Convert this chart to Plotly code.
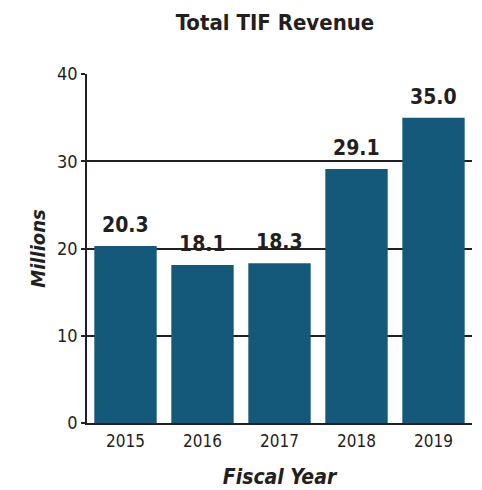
import plotly.graph_objects as go

years = ["2015", "2016", "2017", "2018", "2019"]
revenue = [20.3, 18.1, 18.3, 29.1, 35.0]
y_ticks = [0, 10, 20, 30, 40]

FONT = "Liberation Sans Narrow, DejaVu Sans Condensed, Arial Narrow, sans-serif"
INK = "#231f20"

fig = go.Figure(go.Bar(
    x=years, y=revenue,
    marker=dict(color="#14587a", line=dict(width=0)),
))

# category axis: annotation x uses the category's serial index
for i, v in enumerate(revenue):
    fig.add_annotation(
        x=i, y=v, text=f"<b>{v:.1f}</b>", showarrow=False,
        yanchor="bottom", yshift=7,
        font=dict(family=FONT, size=21, color=INK),
    )

fig.update_layout(
    width=482, height=490,
    margin=dict(l=79, r=18, t=66, b=75),
    paper_bgcolor="white", plot_bgcolor="white",
    bargap=0.19,
    showlegend=False,
    title=dict(text="<b>Total TIF Revenue</b>", x=0.554, xanchor="center", y=0.971, yanchor="middle",
               font=dict(family=FONT, size=22, color=INK)),
    font=dict(family=FONT, color=INK),
)
fig.update_yaxes(
    range=[0, 40], tickvals=y_ticks, showgrid=True, gridcolor=INK, gridwidth=1.5,
    showline=True, linecolor=INK, linewidth=1.5,
    ticks="outside", ticklen=4, tickcolor=INK, tickwidth=1.5,
    tickfont=dict(family=FONT, size=18, color=INK),
    zeroline=False, automargin=False,
    title=dict(text="<b><i>Millions</i></b>", font=dict(family=FONT, size=20, color=INK), standoff=6),
)
fig.update_xaxes(
    type="category", range=[-0.5, 4.5],
    showline=True, linecolor=INK, linewidth=1.5, ticks="", automargin=False,
    ticklabelstandoff=2,
    tickfont=dict(family=FONT, size=17, color=INK),
    title=dict(text="<b><i>Fiscal Year</i></b>", font=dict(family=FONT, size=21, color=INK), standoff=19),
)

fig.write_html("out.html")
